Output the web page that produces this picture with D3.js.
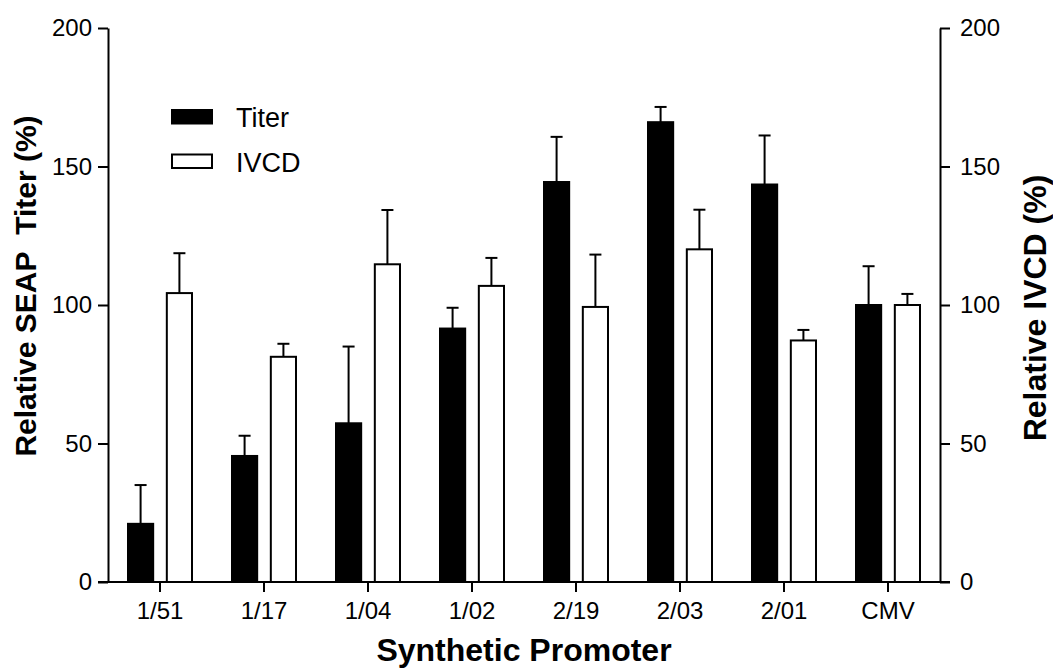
<!DOCTYPE html>
<meta charset="utf-8">
<style>
body { margin: 0; background: #fff; }
svg { font-family: "Liberation Sans", Arial, sans-serif; }
.axis path, .axis line { stroke: #000; stroke-width: 2px; }
.axis text { font-size: 24px; fill: #000; }
.title { font-size: 32px; font-weight: bold; }
.legend text { font-size: 27px; }
</style>
<svg width="1053" height="669"></svg>
<script src="https://d3js.org/d3.v7.min.js"></script>
<script>
// two series with upward error bars, same 0-200 scale on both sides
var categories = ["1/51", "1/17", "1/04", "1/02", "2/19", "2/03", "2/01", "CMV"];
var series = ["Titer", "IVCD"];
var titer    = [21, 45.5, 57.3, 91.5, 144.4, 166, 143.5, 100];
var titerErr = [14, 7.3, 27.7, 7.5, 16.3, 5.5, 17.7, 14];
var ivcd     = [104.3, 81.3, 114.7, 106.9, 99.3, 120.1, 87.2, 100];
var ivcdErr  = [14.4, 4.7, 19.6, 10.1, 18.9, 14.3, 3.8, 4];
var yTicks = [0, 50, 100, 150, 200];

var rows = [];
categories.forEach(function(c, i) {
    rows.push({cat: c, s: "Titer", v: titer[i], e: titerErr[i]});
    rows.push({cat: c, s: "IVCD",  v: ivcd[i],  e: ivcdErr[i]});
});

var svg = d3.select("svg");
var mLeft = 108, mRight = 940, mTop = 28, mBottom = 582;

var x0 = d3.scaleBand().domain(categories).range([mLeft, mRight]);
var x1 = d3.scaleBand().domain(series).range([19, 85]).paddingInner(0.3);
var y = d3.scaleLinear().domain([0, 200]).range([mBottom, mTop]);
var fill = {Titer: "#000", IVCD: "#fff"};

// bars
svg.append("g").selectAll("rect")
    .data(rows)
    .enter().append("rect")
        .attr("x", function(d) { return x0(d.cat) + x1(d.s) + 1; })
        .attr("width", x1.bandwidth() - 2)
        .attr("y", function(d) { return y(d.v); })
        .attr("height", function(d) { return y(0) - y(d.v); })
        .attr("fill", function(d) { return fill[d.s]; })
        .attr("stroke", "#000")
        .attr("stroke-width", 2);

// error bars (upper only)
var err = svg.append("g").attr("stroke", "#000").attr("stroke-width", 2);
function cx(d) { return x0(d.cat) + x1(d.s) + x1.bandwidth() / 2; }
err.selectAll("line.stem")
    .data(rows)
    .enter().append("line")
        .attr("class", "stem")
        .attr("x1", cx).attr("x2", cx)
        .attr("y1", function(d) { return y(d.v); })
        .attr("y2", function(d) { return y(d.v + d.e); });
err.selectAll("line.cap")
    .data(rows)
    .enter().append("line")
        .attr("class", "cap")
        .attr("x1", function(d) { return cx(d) - 6; })
        .attr("x2", function(d) { return cx(d) + 6; })
        .attr("y1", function(d) { return y(d.v + d.e); })
        .attr("y2", function(d) { return y(d.v + d.e); });

// axes
svg.append("g")
    .attr("class", "axis")
    .attr("transform", "translate(" + mLeft + ",0)")
    .call(d3.axisLeft(y).tickValues(yTicks).tickSize(10).tickSizeOuter(0).tickPadding(6));

svg.append("g")
    .attr("class", "axis")
    .attr("transform", "translate(" + mRight + ",0)")
    .call(d3.axisRight(y).tickValues(yTicks).tickSize(10).tickSizeOuter(0).tickPadding(10));

var xAxis = svg.append("g")
    .attr("class", "axis")
    .attr("transform", "translate(0," + mBottom + ")")
    .call(d3.axisBottom(x0).tickSize(10).tickSizeOuter(0).tickPadding(10));
xAxis.select(".domain").attr("d", "M" + (mLeft - 10) + ",0H" + (mRight + 10));

// titles
svg.append("text")
    .attr("class", "title")
    .attr("x", 524)
    .attr("y", 661)
    .attr("text-anchor", "middle")
    .text("Synthetic Promoter");

svg.append("text")
    .attr("class", "title")
    .attr("transform", "translate(36,286) rotate(-90)")
    .attr("text-anchor", "middle")
    .style("font-size", "30px")
    .text("Relative SEAP\u00a0 Titer (%)");

svg.append("text")
    .attr("class", "title")
    .attr("transform", "translate(1046,308) rotate(-90)")
    .attr("text-anchor", "middle")
    .text("Relative IVCD (%)");

// legend
var legend = svg.append("g").attr("class", "legend");
var lg = legend.selectAll("g")
    .data(series)
    .enter().append("g")
        .attr("transform", function(d, i) { return "translate(171," + (109 + i * 44.5) + ")"; });
lg.append("rect")
    .attr("x", 1).attr("y", 1)
    .attr("width", 40).attr("height", 13.5)
    .attr("fill", function(d) { return fill[d]; })
    .attr("stroke", "#000")
    .attr("stroke-width", 2);
lg.append("text")
    .attr("x", 65)
    .attr("y", 18)
    .text(function(d) { return d; });
</script>
